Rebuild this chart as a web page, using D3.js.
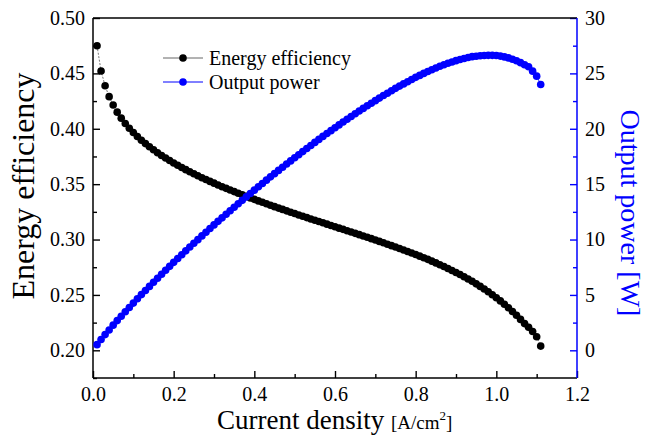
<!DOCTYPE html>
<html>
<head>
<meta charset="utf-8">
<script src="https://cdn.jsdelivr.net/npm/d3@7"></script>
<style>
  body { margin: 0; background: #fff; }
  svg { display: block; font-family: "Liberation Serif", "Times New Roman", serif; }
  svg text { font-family: "Liberation Serif", "Times New Roman", serif !important; }
</style>
</head>
<body>
<svg id="chart" width="646" height="435"></svg>
<script>
// current density [A/cm2]
const current = [
  0.01,0.02,0.03,0.04,0.05,0.06,0.07,0.08,0.09,0.10,
  0.11,0.12,0.13,0.14,0.15,0.16,0.17,0.18,0.19,0.20,
  0.21,0.22,0.23,0.24,0.25,0.26,0.27,0.28,0.29,0.30,
  0.31,0.32,0.33,0.34,0.35,0.36,0.37,0.38,0.39,0.40,
  0.41,0.42,0.43,0.44,0.45,0.46,0.47,0.48,0.49,0.50,
  0.51,0.52,0.53,0.54,0.55,0.56,0.57,0.58,0.59,0.60,
  0.61,0.62,0.63,0.64,0.65,0.66,0.67,0.68,0.69,0.70,
  0.71,0.72,0.73,0.74,0.75,0.76,0.77,0.78,0.79,0.80,
  0.81,0.82,0.83,0.84,0.85,0.86,0.87,0.88,0.89,0.90,
  0.91,0.92,0.93,0.94,0.95,0.96,0.97,0.98,0.99,1.00,
  1.01,1.02,1.03,1.04,1.05,1.06,1.07,1.08,1.09,1.10,1.11
];

const efficiency = [
  0.4749,0.4522,0.4388,0.4290,0.4214,0.4150,0.4096,0.4048,0.4005,0.3966,
  0.3930,0.3897,0.3866,0.3837,0.3810,0.3784,0.3759,0.3736,0.3713,0.3691,
  0.3670,0.3650,0.3631,0.3612,0.3594,0.3576,0.3558,0.3542,0.3525,0.3509,
  0.3493,0.3477,0.3462,0.3447,0.3433,0.3418,0.3404,0.3390,0.3376,0.3363,
  0.3349,0.3336,0.3323,0.3310,0.3297,0.3284,0.3272,0.3259,0.3247,0.3235,
  0.3222,0.3210,0.3198,0.3186,0.3174,0.3163,0.3151,0.3139,0.3127,0.3115,
  0.3103,0.3092,0.3080,0.3068,0.3056,0.3044,0.3032,0.3020,0.3008,0.2996,
  0.2983,0.2971,0.2958,0.2945,0.2933,0.2919,0.2906,0.2892,0.2879,0.2865,
  0.2850,0.2836,0.2821,0.2805,0.2789,0.2773,0.2756,0.2739,0.2721,0.2703,
  0.2684,0.2664,0.2644,0.2623,0.2600,0.2577,0.2553,0.2528,0.2502,0.2475,
  0.2446,0.2416,0.2384,0.2351,0.2316,0.2279,0.2241,0.2208,0.2170,0.2122,0.2038
];

// output power [W]
const power = [
  0.51,0.97,1.42,1.84,2.27,2.68,3.08,3.48,3.87,4.26,
  4.65,5.03,5.40,5.77,6.14,6.51,6.87,7.23,7.58,7.94,
  8.29,8.63,8.98,9.32,9.66,9.99,10.33,10.66,10.99,11.32,
  11.64,11.96,12.28,12.60,12.92,13.23,13.54,13.85,14.15,14.46,
  14.76,15.06,15.36,15.66,15.95,16.24,16.53,16.82,17.10,17.39,
  17.66,17.94,18.22,18.49,18.77,19.04,19.31,19.57,19.83,20.09,
  20.35,20.61,20.86,21.11,21.35,21.60,21.84,22.08,22.31,22.54,
  22.77,23.00,23.21,23.43,23.65,23.85,24.05,24.25,24.45,24.64,
  24.82,25.00,25.17,25.33,25.48,25.64,25.78,25.91,26.03,26.15,
  26.26,26.35,26.43,26.51,26.55,26.59,26.62,26.63,26.63,26.61,
  26.56,26.49,26.40,26.28,26.14,25.97,25.78,25.60,25.20,24.75,24.00
];

const xTicks = [0.0, 0.2, 0.4, 0.6, 0.8, 1.0, 1.2];
const effTicks = [0.20, 0.25, 0.30, 0.35, 0.40, 0.45, 0.50];
const powTicks = [0, 5, 10, 15, 20, 25, 30];

const BLUE = "#0000ff";
const margin = { top: 18, right: 69, bottom: 57, left: 93 };
const W = 646, H = 435;
const iw = W - margin.left - margin.right;
const ih = H - margin.top - margin.bottom;

const svg = d3.select("#chart");
const g = svg.append("g").attr("transform", `translate(${margin.left},${margin.top})`);

const x = d3.scaleLinear().domain([0, 1.2]).range([0, iw]);
const yL = d3.scaleLinear().domain([0.175, 0.50]).range([ih, 0]);
const yR = d3.scaleLinear().domain([-2.5, 30]).range([ih, 0]);

function styleAxis(sel, color) {
  sel.attr("font-family", "Liberation Serif").attr("font-size", 20);
  sel.select(".domain").remove();
  sel.selectAll("line").attr("stroke", color).attr("stroke-width", 1.4);
  sel.selectAll("text").attr("fill", "#000");
}

// minor ticks
g.append("g").attr("transform", `translate(0,${ih})`)
  .call(d3.axisBottom(x).tickValues(d3.range(0.1, 1.2, 0.2)).tickSize(-4).tickFormat(""))
  .call(styleAxis, "#000");
g.append("g")
  .call(d3.axisLeft(yL).tickValues([0.175, 0.225, 0.275, 0.325, 0.375, 0.425, 0.475]).tickSize(-4).tickFormat(""))
  .call(styleAxis, "#000");
g.append("g").attr("transform", `translate(${iw},0)`)
  .call(d3.axisRight(yR).tickValues([2.5, 7.5, 12.5, 17.5, 22.5, 27.5]).tickSize(-4).tickFormat(""))
  .call(styleAxis, BLUE);

// major ticks
g.append("g").attr("transform", `translate(0,${ih})`)
  .call(d3.axisBottom(x).tickValues(xTicks).tickSize(-7).tickPadding(9).tickFormat(d3.format(".1f")))
  .call(styleAxis, "#000");
g.append("g")
  .call(d3.axisLeft(yL).tickValues(effTicks).tickSize(-7).tickPadding(8).tickFormat(d3.format(".2f")))
  .call(styleAxis, "#000");
g.append("g").attr("transform", `translate(${iw},0)`)
  .call(d3.axisRight(yR).tickValues(powTicks).tickSize(-7).tickPadding(8).tickFormat(d3.format("d")))
  .call(styleAxis, BLUE);

// frame
g.append("line").attr("x1", 0).attr("x2", iw).attr("y1", 0).attr("y2", 0).attr("stroke", "#000").attr("stroke-width", 1.5);
g.append("line").attr("x1", 0).attr("x2", iw).attr("y1", ih).attr("y2", ih).attr("stroke", "#000").attr("stroke-width", 1.5);
g.append("line").attr("x1", 0).attr("x2", 0).attr("y1", 0).attr("y2", ih).attr("stroke", "#000").attr("stroke-width", 1.5);
g.append("line").attr("x1", iw).attr("x2", iw).attr("y1", 0).attr("y2", ih).attr("stroke", BLUE).attr("stroke-width", 1.5);

// efficiency series
const effLine = d3.line().x((d, i) => x(current[i])).y(d => yL(d));
g.append("path").datum(efficiency)
  .attr("d", effLine)
  .attr("fill", "none").attr("stroke", "#555").attr("stroke-width", 0.8)
  .attr("stroke-dasharray", "2,1.5");
g.selectAll(".eff-dot").data(efficiency).enter().append("circle")
  .attr("class", "eff-dot")
  .attr("cx", (d, i) => x(current[i]))
  .attr("cy", d => yL(d))
  .attr("r", 3.8)
  .attr("fill", "#000");

// power series
const powLine = d3.line().x((d, i) => x(current[i])).y(d => yR(d));
g.append("path").datum(power)
  .attr("d", powLine)
  .attr("fill", "none").attr("stroke", BLUE).attr("stroke-width", 0.8);
g.selectAll(".pow-dot").data(power).enter().append("circle")
  .attr("class", "pow-dot")
  .attr("cx", (d, i) => x(current[i]))
  .attr("cy", d => yR(d))
  .attr("r", 3.8)
  .attr("fill", BLUE);

// legend
const legend = [
  { name: "Energy efficiency", line: "#666", dot: "#000", y: 58 },
  { name: "Output power", line: BLUE, dot: BLUE, y: 82 }
];
const lg = svg.append("g");
legend.forEach(l => {
  lg.append("line").attr("x1", 163).attr("x2", 203).attr("y1", l.y).attr("y2", l.y)
    .attr("stroke", l.line).attr("stroke-width", 1);
  lg.append("circle").attr("cx", 183).attr("cy", l.y).attr("r", 3.8).attr("fill", l.dot);
  lg.append("text").attr("x", 209).attr("y", l.y + 6.5)
    .style("font-size", "20px").attr("fill", "#000").text(l.name);
});

// axis titles
const xt = svg.append("text").attr("x", 217).attr("y", 429).attr("fill", "#000");
xt.append("tspan").style("font-size", "27px").text("Current density ");
xt.append("tspan").style("font-size", "19px").text("[A/cm");
xt.append("tspan").style("font-size", "13px").attr("dy", -9).text("2");
xt.append("tspan").style("font-size", "19px").attr("dy", 9).text("]");

svg.append("text")
  .attr("transform", "translate(34,186) rotate(-90)")
  .attr("text-anchor", "middle")
  .style("font-size", "32px").attr("fill", "#000")
  .text("Energy efficiency");

svg.append("text")
  .attr("transform", "translate(621,213) rotate(90)")
  .attr("text-anchor", "middle")
  .style("font-size", "28px").attr("fill", BLUE)
  .text("Output power [W]");
</script>
</body>
</html>
